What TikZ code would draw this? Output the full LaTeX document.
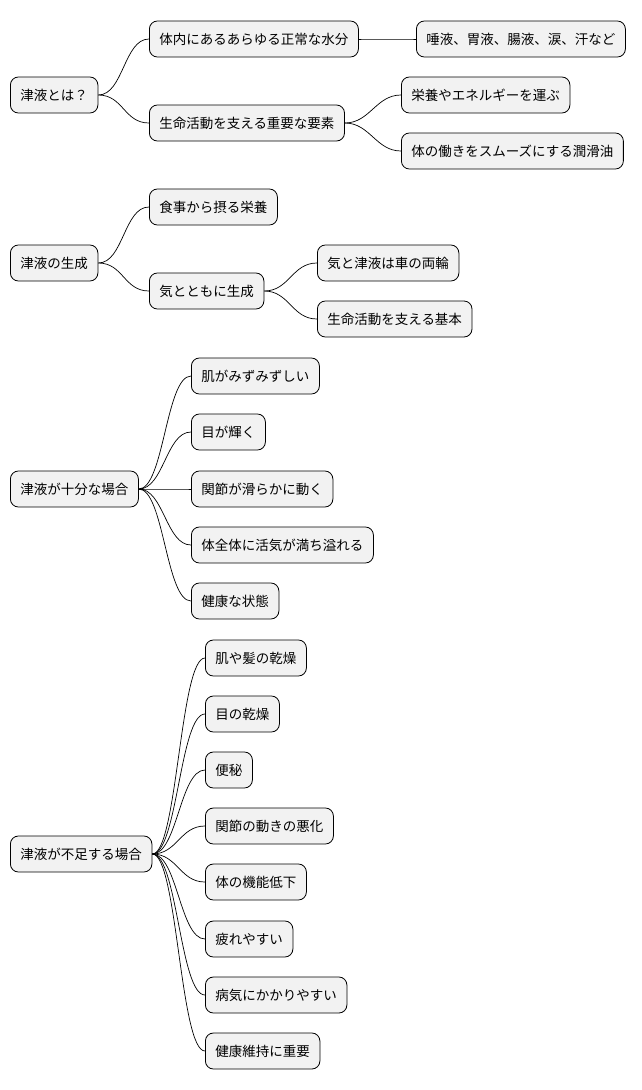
\documentclass[tikz,border=0pt]{standalone}
\usepackage{fontspec}
\setmainfont{Noto Sans CJK JP}
\begin{document}
\begin{tikzpicture}[x=1pt,y=-1pt,
  box/.style={draw=black,fill=black!5,rounded corners=8pt,minimum height=36pt,inner xsep=10pt,anchor=west,font=\fontsize{13.5pt}{16pt}\selectfont,line width=0.8pt},
  link/.style={line width=0.7pt}]
\useasboundingbox (0,0) rectangle (642,1090);
\newcommand{\lnk}[2]{\draw[link] (#1.east) .. controls +(25,0) and +(-25,0) .. (#2.west);}
% tree 1
\node[box] (a) at (10,95) {津液とは？};
\node[box] (a1) at (149,39) {体内にあるあらゆる正常な水分};
\node[box] (a11) at (416,39) {唾液、胃液、腸液、涙、汗など};
\node[box] (a2) at (149,123) {生命活動を支える重要な要素};
\node[box] (a21) at (401,95) {栄養やエネルギーを運ぶ};
\node[box] (a22) at (401,151) {体の働きをスムーズにする潤滑油};
\lnk{a}{a1}\lnk{a}{a2}\lnk{a1}{a11}\lnk{a2}{a21}\lnk{a2}{a22}
% tree 2
\node[box] (b) at (10,263) {津液の生成};
\node[box] (b1) at (149,207) {食事から摂る栄養};
\node[box] (b2) at (149,291) {気とともに生成};
\node[box] (b21) at (317,263) {気と津液は車の両輪};
\node[box] (b22) at (317,319) {生命活動を支える基本};
\lnk{b}{b1}\lnk{b}{b2}\lnk{b2}{b21}\lnk{b2}{b22}
% tree 3
\node[box] (c) at (10,489) {津液が十分な場合};
\node[box] (c1) at (191,376) {肌がみずみずしい};
\node[box] (c2) at (191,432) {目が輝く};
\node[box] (c3) at (191,489) {関節が滑らかに動く};
\node[box] (c4) at (191,545) {体全体に活気が満ち溢れる};
\node[box] (c5) at (191,601) {健康な状態};
\foreach \i in {1,...,5}{\lnk{c}{c\i}}
% tree 4
\node[box] (d) at (10,854) {津液が不足する場合};
\node[box] (d1) at (205,658) {肌や髪の乾燥};
\node[box] (d2) at (205,714) {目の乾燥};
\node[box] (d3) at (205,770) {便秘};
\node[box] (d4) at (205,826) {関節の動きの悪化};
\node[box] (d5) at (205,882) {体の機能低下};
\node[box] (d6) at (205,939) {疲れやすい};
\node[box] (d7) at (205,995) {病気にかかりやすい};
\node[box] (d8) at (205,1051) {健康維持に重要};
\foreach \i in {1,...,8}{\lnk{d}{d\i}}
\end{tikzpicture}
\end{document}
